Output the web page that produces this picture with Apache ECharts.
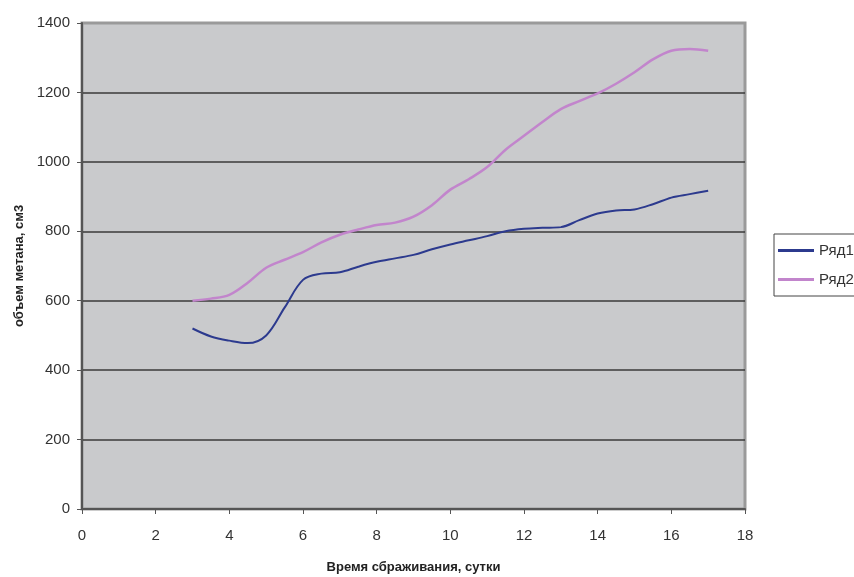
<!DOCTYPE html>
<html>
<head>
<meta charset="utf-8">
<script src="https://cdn.jsdelivr.net/npm/echarts@6/dist/echarts.min.js"></script>
<style>html,body{margin:0;padding:0;background:#fff}#c{width:854px;height:577px}</style>
</head>
<body>
<div id="c"></div>
<script>
const days = [3,3.5,4,4.5,5,5.5,6,6.5,7,7.5,8,8.5,9,9.5,10,10.5,11,11.5,12,12.5,13,13.5,14,14.5,15,15.5,16,16.5,17];
const series1 = [520,497,485,478,500,580,660,678,682,698,712,722,732,748,762,774,786,800,807,810,812,832,851,860,863,878,897,907,917];
const series2 = [600,606,617,652,695,718,740,768,790,805,818,825,842,875,920,950,985,1035,1075,1115,1152,1175,1197,1225,1258,1295,1320,1325,1320];
const seriesNames = ['Ряд1','Ряд2'];
const xTitle = 'Время сбраживания, сутки';
const yTitle = 'объем метана, см3';

const chart = echarts.init(document.getElementById('c'), null, {renderer:'canvas'});
const font = 'Liberation Sans, Arial, sans-serif';
chart.setOption({
  animation:false,
  textStyle:{fontFamily:font},
  grid:{left:82,right:109,top:23,bottom:68,outerBoundsMode:'none',containLabel:false,show:true,backgroundColor:'#c9cacc',borderColor:'#9a9a9a',borderWidth:3},
  legend:{
    orient:'vertical',left:774,top:234,
    padding:[9,40,9,4],itemGap:14,
    borderColor:'#444',borderWidth:1,backgroundColor:'#fff',
    icon:'rect',itemWidth:36,itemHeight:3,itemSpacing:4,
    textStyle:{fontSize:15,color:'#333',fontFamily:font},
    data:seriesNames
  },
  xAxis:{
    type:'value',min:0,max:18,interval:2,
    name:xTitle,nameLocation:'middle',nameGap:52,
    nameTextStyle:{fontSize:13,fontWeight:'bold',color:'#222',fontFamily:font},
    axisLine:{show:true,lineStyle:{color:'#555',width:2}},
    axisTick:{show:true,length:5,lineStyle:{color:'#555'}},
    axisLabel:{fontSize:15,color:'#333',margin:19},
    splitLine:{show:false}
  },
  yAxis:{
    type:'value',min:0,max:1400,interval:200,
    name:yTitle,nameLocation:'middle',nameGap:51,nameRotate:90,
    nameTextStyle:{fontSize:13,fontWeight:'bold',color:'#222',fontFamily:font},
    axisLine:{show:true,lineStyle:{color:'#555',width:2}},
    axisTick:{show:true,length:5,lineStyle:{color:'#555'}},
    axisLabel:{fontSize:15,color:'#333',margin:12,formatter:v=>String(v)},
    splitLine:{show:true,showMaxLine:false,lineStyle:{color:'#3a3a3a',width:1.5}}
  },
  series:[
    {name:seriesNames[0],type:'line',smooth:0.35,symbol:'none',
     data:days.map((d,i)=>[d,series1[i]]),
     lineStyle:{color:'#2c3a8e',width:2},itemStyle:{color:'#2c3a8e'}},
    {name:seriesNames[1],type:'line',smooth:0.35,symbol:'none',
     data:days.map((d,i)=>[d,series2[i]]),
     lineStyle:{color:'#c285cc',width:2.5},itemStyle:{color:'#c285cc'}}
  ]
});
</script>
</body>
</html>
